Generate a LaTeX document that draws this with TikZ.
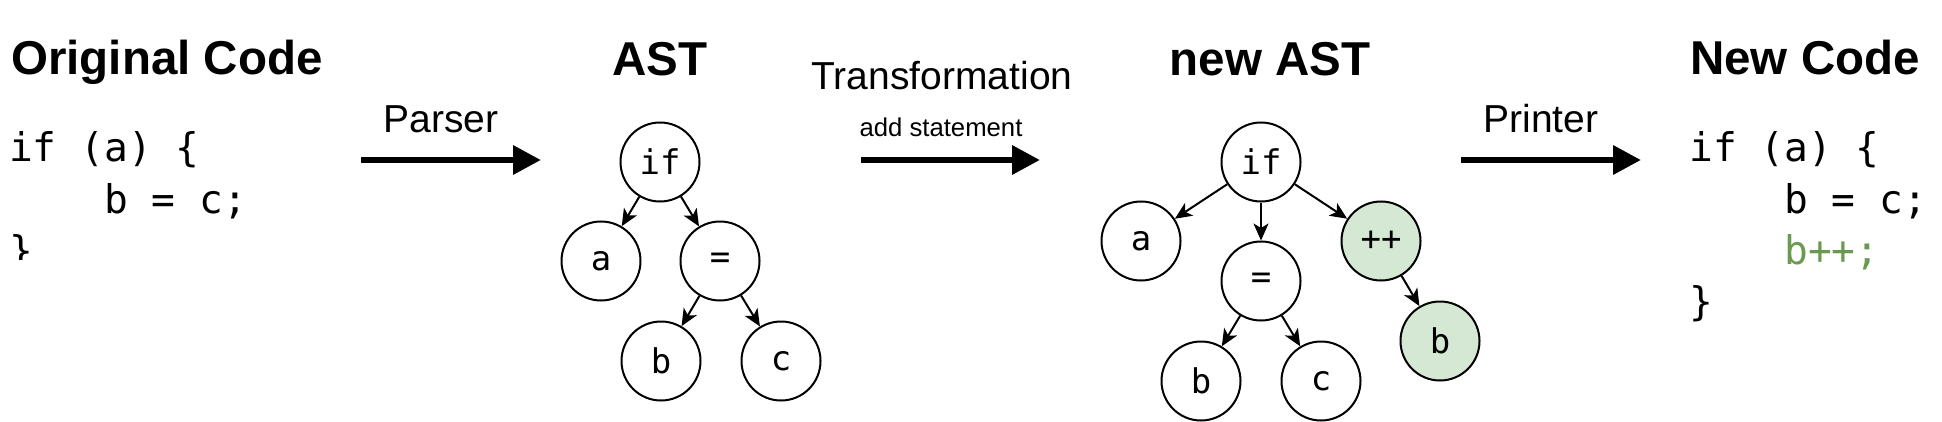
\documentclass[tikz,border=0pt]{standalone}
\usepackage{fontspec}
\setmainfont{Liberation Sans}
\newfontfamily\codefont{DejaVu Sans Mono}
\usetikzlibrary{arrows.meta,positioning}
\definecolor{newfill}{RGB}{213,232,212}
\definecolor{newtext}{RGB}{106,154,79}

\tikzset{
  heading/.style={font=\bfseries\fontsize{47.5}{56}\selectfont, inner sep=0pt},
  arrowtext/.style={font=\fontsize{39}{46}\selectfont, inner sep=0pt, anchor=base},
  smalltext/.style={font=\fontsize{25.7}{30}\selectfont, inner sep=0pt, anchor=base},
  code/.style={font=\codefont\fontsize{39.5}{51}\selectfont, inner sep=0pt, anchor=base west},
  astnode/.style={circle, draw, line width=2pt, minimum size=79pt, inner sep=0pt, font=\codefont\fontsize{34}{40}\selectfont},
  addnode/.style={astnode, fill=newfill},
  astedge/.style={line width=2pt, -{Stealth[length=17pt,width=15pt,inset=4.5pt]}},
  bigarrow/.style={line width=6.5pt, -{Triangle[length=28pt,width=28pt]}}
}

\begin{document}
\begin{tikzpicture}[x=1pt, y=-1pt]
      \useasboundingbox (0,0) rectangle (1942,422);

      \node[heading, anchor=base west] (origtitle) at (11,75) {Original Code};
      \node[heading, anchor=base] (asttitle) at (660,76) {AST};
      \node[heading, anchor=base] (newasttitle) at (1270,76) {new AST};
      \node[heading, anchor=base west] (newtitle) at (1690,75) {New Code};

      % original code
      \node[code] (orig1) at (9,162) {if (a) \{};
      \node[code] (orig2) at (104,213) {b = c;};
      \begin{scope}
        \clip (0,0) rectangle (120,259);
        \node[code] (orig3) at (9,264) {\}};
      \end{scope}

      % new code
      \node[code] (new1) at (1689,162) {if (a) \{};
      \node[code] (new2) at (1784,213) {b = c;};
      \node[code, text=newtext] (new3) at (1784,264) {b++;};
      \node[code] (new4) at (1689,315) {\}};

      % big arrows
      \coordinate (parserS) at (361,160);
      \coordinate (parserE) at (541,160);
      \coordinate (transS) at (861,160);
      \coordinate (transE) at (1040,160);
      \coordinate (printS) at (1461,160);
      \coordinate (printE) at (1641,160);
      \draw[bigarrow] (parserS) -- (parserE);
      \draw[bigarrow] (transS) -- (transE);
      \draw[bigarrow] (printS) -- (printE);
      \node[arrowtext] (parser) at (441,133) {Parser};
      \node[arrowtext] (trans) at (942,90) {Transformation};
      \node[smalltext] (addst) at (941,137) {add statement};
      \node[arrowtext] (printer) at (1541,133) {Printer};

      % AST
      \node[astnode] (ifA) at (660,162) {if};
      \node[astnode] (aA) at (601,261) {a};
      \node[astnode] (eqA) at (720,261) {=};
      \node[astnode] (bA) at (661,361) {b};
      \node[astnode] (cA) at (781,361) {c};
      \draw[astedge] (ifA) -- (aA);
      \draw[astedge] (ifA) -- (eqA);
      \draw[astedge] (eqA) -- (bA);
      \draw[astedge] (eqA) -- (cA);

      % new AST
      \node[astnode] (ifN) at (1261,162) {if};
      \node[astnode] (aN) at (1141,241) {a};
      \node[astnode] (eqN) at (1261,281) {=};
      \node[addnode] (incN) at (1381,241) {++};
      \node[addnode] (incbN) at (1440,341) {b};
      \node[astnode] (bN) at (1201,381) {b};
      \node[astnode] (cN) at (1321,381) {c};
      \draw[astedge] (ifN) -- (aN);
      \draw[astedge] (ifN) -- (eqN);
      \draw[astedge] (ifN) -- (incN);
      \draw[astedge] (incN) -- (incbN);
      \draw[astedge] (eqN) -- (bN);
      \draw[astedge] (eqN) -- (cN);
\end{tikzpicture}
\end{document}
